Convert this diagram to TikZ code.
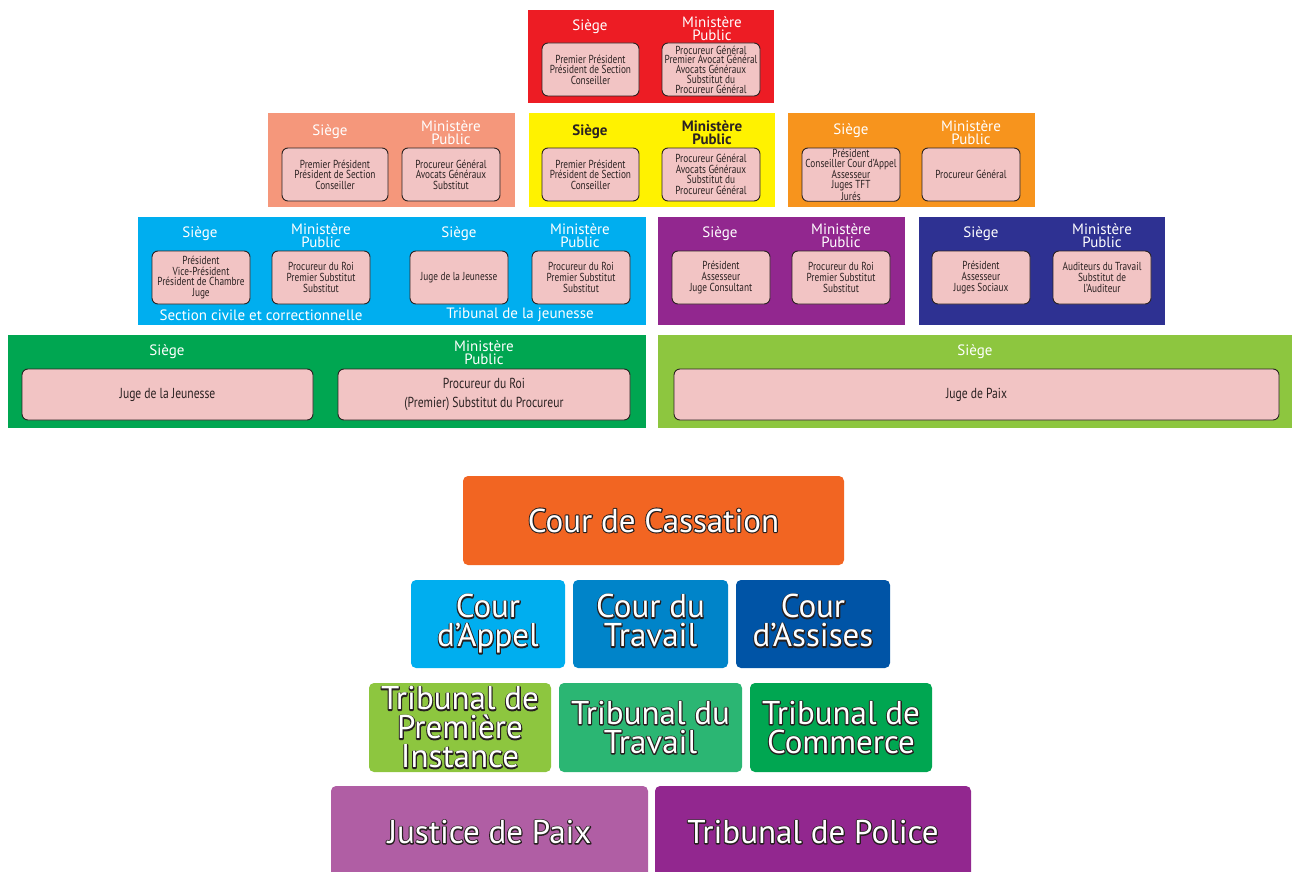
\documentclass[tikz,border=0pt]{standalone}
\usepackage{fontspec}
\setmainfont{PT Sans}
\newfontfamily\cond[FakeStretch=0.8]{PT Sans}
\definecolor{cred}{HTML}{ED1C24}
\definecolor{csalmon}{HTML}{F5977B}
\definecolor{cyellow}{HTML}{FFF200}
\definecolor{corange}{HTML}{F7941D}
\definecolor{ccyan}{HTML}{00AEEF}
\definecolor{cpurple}{HTML}{92278F}
\definecolor{cnavy}{HTML}{2E3192}
\definecolor{cgreen}{HTML}{00A651}
\definecolor{clgreen}{HTML}{8DC63F}
\definecolor{ccass}{HTML}{F26522}
\definecolor{ctrav}{HTML}{0084C9}
\definecolor{cassi}{HTML}{0054A6}
\definecolor{ctt}{HTML}{2BB673}
\definecolor{cjp}{HTML}{B05EA4}
\definecolor{cpink}{HTML}{F2C4C4}
\definecolor{cdark}{HTML}{2B2222}
% white text with a thin dark outline: stroked copy underneath, white fill on top
\newcommand{\oltxt}[1]{\special{pdf:literal direct 1 Tr 2.2 w 1 j 0.15 0.12 0.12 RG}\rlap{#1}\special{pdf:literal direct 0 Tr}#1}
\tikzset{
  outerbox/.style={rectangle, inner sep=0pt, outer sep=0pt, anchor=north west},
  innerbox/.style={rectangle, rounded corners=6pt, fill=cpink, draw=cdark, line width=0.9pt,
     inner sep=1pt, outer sep=0pt, anchor=north west, align=center, text=cdark,
     font={\cond\fontsize{11.6}{10.6}\selectfont}},
  tight/.style={font={\cond\fontsize{11.6}{9.7}\selectfont}},
  bigtxt/.style={font={\cond\fontsize{14.5}{18.5}\selectfont}},
  lbl/.style={text=white, inner sep=0pt, align=center, font={\fontsize{15}{13}\selectfont}},
  dlbl/.style={text=cdark, inner sep=0pt, align=center, font={\bfseries\fontsize{15}{13}\selectfont}},
  court/.style={rectangle, rounded corners=5pt, inner sep=0pt, outer sep=0pt, anchor=north west,
     align=center, text=white, font={\fontsize{33}{29}\selectfont}},
}
\begin{document}
\begin{tikzpicture}[x=1pt, y=-1pt]
\useasboundingbox (0,0) rectangle (1292,872);
% ---------- Row 1 : red ----------
\node[outerbox, fill=cred, minimum width=246, minimum height=93] (red) at (528,10) {};
\node[lbl] (redS) at (590,26.5) {Siège};
\node[lbl] (redM) at (712,28.5) {Ministère\\Public};
\node[innerbox, minimum width=97, minimum height=53] (redA) at (542,43) {Premier Président\\Président de Section\\Conseiller};
\node[innerbox, tight, minimum width=98, minimum height=53] (redB) at (662,43) {Procureur Général\\Premier Avocat Général\\Avocats Généraux\\Substitut du\\Procureur Général};
% ---------- Row 2 ----------
\node[outerbox, fill=csalmon, minimum width=247, minimum height=94] (sal) at (268,113) {};
\node[lbl] (salS) at (330,131.5) {Siège};
\node[lbl] (salM) at (451,132.5) {Ministère\\Public};
\node[innerbox, minimum width=106, minimum height=53] (salA) at (282,148) {Premier Président\\Président de Section\\Conseiller};
\node[innerbox, minimum width=98, minimum height=53] (salB) at (402,148) {Procureur Général\\Avocats Généraux\\Substitut};
\node[outerbox, fill=cyellow, minimum width=246, minimum height=94] (yel) at (529,113) {};
\node[dlbl] (yelS) at (590,131.5) {Siège};
\node[dlbl] (yelM) at (712,132.5) {Ministère\\Public};
\node[innerbox, minimum width=97, minimum height=53] (yelA) at (542,148) {Premier Président\\Président de Section\\Conseiller};
\node[innerbox, minimum width=98, minimum height=53] (yelB) at (662,148) {Procureur Général\\Avocats Généraux\\Substitut du\\Procureur Général};
\node[outerbox, fill=corange, minimum width=247, minimum height=94] (ora) at (788,113) {};
\node[lbl] (oraS) at (851,130.5) {Siège};
\node[lbl] (oraM) at (971,132.5) {Ministère\\Public};
\node[innerbox, tight, minimum width=98, minimum height=53] (oraA) at (802,148) {Président\\Conseiller Cour d’Appel\\Assesseur\\Juges TFT\\Jurés};
\node[innerbox, minimum width=98, minimum height=53] (oraB) at (922,148) {Procureur Général};
% ---------- Row 3 ----------
\node[outerbox, fill=ccyan, minimum width=508, minimum height=108] (cya) at (138,217) {};
\node[lbl] (cyaS1) at (200,233.5) {Siège};
\node[lbl] (cyaM1) at (321,235.5) {Ministère\\Public};
\node[innerbox, minimum width=98, minimum height=53] (cyaA) at (152,251) {Président\\Vice-Président\\Président de Chambre\\Juge};
\node[innerbox, minimum width=98, minimum height=53] (cyaB) at (272,251) {Procureur du Roi\\Premier Substitut\\Substitut};
\node[lbl] (cyaS2) at (459,233.5) {Siège};
\node[lbl] (cyaM2) at (580,235.5) {Ministère\\Public};
\node[innerbox, minimum width=98, minimum height=53] (cyaC) at (410,251) {Juge de la Jeunesse};
\node[innerbox, minimum width=98, minimum height=53] (cyaD) at (532,251) {Procureur du Roi\\Premier Substitut\\Substitut};
\node[lbl] (cyaL1) at (261,315) {Section civile et correctionnelle};
\node[lbl] (cyaL2) at (520,315) {Tribunal de la jeunesse};
\node[outerbox, fill=cpurple, minimum width=247, minimum height=108] (pur) at (658,217) {};
\node[lbl] (purS) at (720,233.5) {Siège};
\node[lbl] (purM) at (841,235.5) {Ministère\\Public};
\node[innerbox, minimum width=98, minimum height=53] (purA) at (672,251) {Président\\Assesseur\\Juge Consultant};
\node[innerbox, minimum width=98, minimum height=53] (purB) at (792,251) {Procureur du Roi\\Premier Substitut\\Substitut};
\node[outerbox, fill=cnavy, minimum width=246, minimum height=108] (nav) at (919,217) {};
\node[lbl] (navS) at (981,233.5) {Siège};
\node[lbl] (navM) at (1102,235.5) {Ministère\\Public};
\node[innerbox, minimum width=98, minimum height=53] (navA) at (932,251) {Président\\Assesseur\\Juges Sociaux};
\node[innerbox, minimum width=98, minimum height=53] (navB) at (1053,251) {Auditeurs du Travail\\Substitut de\\l’Auditeur};
% ---------- Row 4 ----------
\node[outerbox, fill=cgreen, minimum width=638, minimum height=93] (gre) at (8,335) {};
\node[lbl] (greS) at (167,351.5) {Siège};
\node[lbl] (greM) at (484,352.5) {Ministère\\Public};
\node[innerbox, bigtxt, minimum width=291, minimum height=51] (greA) at (22,369) {Juge de la Jeunesse};
\node[innerbox, bigtxt, minimum width=292, minimum height=51] (greB) at (338,369) {Procureur du Roi\\(Premier) Substitut du Procureur};
\node[outerbox, fill=clgreen, minimum width=634, minimum height=93] (lgr) at (658,335) {};
\node[lbl] (lgrS) at (975,351.5) {Siège};
\node[innerbox, bigtxt, minimum width=605, minimum height=51] (lgrA) at (674,369) {Juge de Paix};
% ---------- Courts pyramid ----------
\node[court, fill=ccass, minimum width=381, minimum height=89] (cass) at (463,476) {\oltxt{Cour de Cassation}};
\node[court, fill=ccyan, minimum width=154, minimum height=88] (appel) at (411,580) {\oltxt{Cour\vphantom{d}}\\\oltxt{d’Appel}};
\node[court, fill=ctrav, minimum width=155, minimum height=88] (travail) at (573,580) {\oltxt{Cour du}\\\oltxt{Travail\vphantom{p}}};
\node[court, fill=cassi, minimum width=154, minimum height=88] (assises) at (736,580) {\oltxt{Cour\vphantom{d}}\\\oltxt{d’Assises\vphantom{p}}};
\node[court, fill=clgreen, minimum width=182, minimum height=89] (tpi) at (369,683) {\oltxt{Tribunal de}\\\oltxt{Première}\\\oltxt{Instance}};
\node[court, fill=ctt, minimum width=183, minimum height=89] (ttr) at (559,683) {\oltxt{Tribunal du}\\\oltxt{Travail}};
\node[court, fill=cgreen, minimum width=182, minimum height=89] (tco) at (750,683) {\oltxt{Tribunal de}\\\oltxt{Commerce}};
\node[court, fill=cjp, minimum width=317, minimum height=92] (jp) at (331,786) {\oltxt{Justice de Paix}};
\node[court, fill=cpurple, minimum width=316, minimum height=92] (tpol) at (655,786) {\oltxt{Tribunal de Police}};
\end{tikzpicture}
\end{document}
